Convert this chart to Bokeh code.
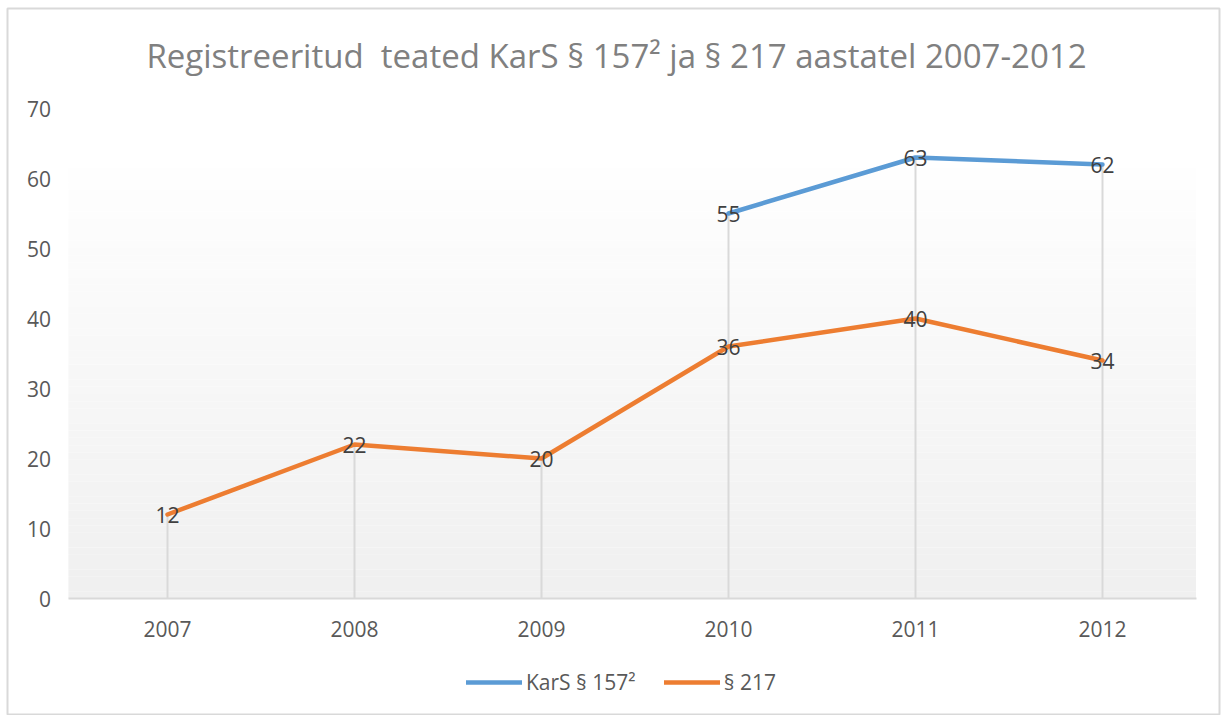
import numpy as np
from bokeh.plotting import figure
from bokeh.models import Range1d, FixedTicker, Label, Legend, LegendItem
from bokeh.core.properties import value
from bokeh.embed import file_html
from bokeh.resources import INLINE

# ---- data ----
years = ["2007", "2008", "2009", "2010", "2011", "2012"]
kars_157 = [None, None, None, 55, 63, 62]
par_217 = [12, 22, 20, 36, 40, 34]
y_ticks = [0, 10, 20, 30, 40, 50, 60, 70]
title_text = "Registreeritud\u00a0 teated KarS § 157\u00b2 ja § 217 aastatel 2007-2012"
series_names = ["KarS § 157\u00b2", "§ 217"]

FONT = "Open Sans"
BLUE = "#5b9bd5"
ORANGE = "#ed7d31"
AX_COL = "#595959"

xs = list(range(len(years)))  # category positions

# frame covers the whole chart box; 1 category = 187 px, 1 y-unit = 7 px
p = figure(width=1223, height=715,
           x_range=Range1d(-160 / 187, 1052 / 187),
           y_range=Range1d(-117 / 7, 70 + 100 / 7),
           output_backend="svg", toolbar_location=None,
           min_border_left=7, min_border_right=4, min_border_top=8, min_border_bottom=0)
p.background_fill_color = "white"
p.border_fill_color = "white"
p.outline_line_color = "#d9d9d9"
p.outline_line_width = 2
p.grid.visible = False

# gradient plot-area background (decorative)
n_bands = 60
edges = np.linspace(0, 62.6, n_bands + 1)
shade = np.linspace(240, 255, n_bands)
cols = ["#%02x%02x%02x" % (int(s), int(s), int(s)) for s in shade]
p.quad(left=[-0.53] * n_bands, right=[len(years) - 0.5] * n_bands,
       bottom=edges[:-1], top=edges[1:], fill_color=cols, line_color=None)

# drop lines
tops = [max(v for v in (a, b) if v is not None) for a, b in zip(kars_157, par_217)]
p.segment(x0=xs, y0=[0] * len(xs), x1=xs, y1=tops, line_color="#d9d9d9", line_width=2)

# lines
k_x = [x for x, v in zip(xs, kars_157) if v is not None]
k_vals = [v for v in kars_157 if v is not None]
r1 = p.line(k_x, k_vals, line_color=BLUE, line_width=4.5, line_join="round", line_cap="round")
r2 = p.line(xs, par_217, line_color=ORANGE, line_width=4.5, line_join="round", line_cap="round")

# data labels
lab_x = k_x + xs
lab_y = k_vals + par_217
lab_t = [str(v) for v in lab_y]
p.text(x=lab_x, y=lab_y, text=lab_t, text_align="center", text_baseline="middle",
       text_font=value(FONT), text_font_size="21px", text_color="#404040")

# axes placed inside the frame
p.yaxis.fixed_location = -0.5
p.yaxis.ticker = FixedTicker(ticks=y_ticks)
p.yaxis.axis_line_color = None
p.yaxis.major_tick_line_color = None
p.yaxis.minor_tick_line_color = None
p.yaxis.major_label_standoff = 17
p.yaxis.major_label_text_font = FONT
p.yaxis.major_label_text_font_size = "21px"
p.yaxis.major_label_text_color = AX_COL

p.xaxis.fixed_location = 0
p.xaxis.ticker = FixedTicker(ticks=xs)
p.xaxis.major_label_overrides = {x: y for x, y in zip(xs, years)}
p.xaxis.axis_line_color = "#d9d9d9"
p.xaxis.axis_line_width = 2
p.xaxis.major_tick_line_color = None
p.xaxis.minor_tick_line_color = None
p.xaxis.major_label_standoff = 16
p.xaxis.major_label_text_font = FONT
p.xaxis.major_label_text_font_size = "21px"
p.xaxis.major_label_text_color = AX_COL
p.xaxis.bounds = (-0.53, len(years) - 0.5)

# title
p.add_layout(Label(x=(616 - 167) / 187, y=(598 - 55) / 7, text=title_text,
                   text_align="center", text_baseline="middle",
                   text_font=FONT, text_font_size="33px", text_color="#808080"))

# legend
legend = Legend(items=[LegendItem(label=series_names[0], renderers=[r1]),
                       LegendItem(label=series_names[1], renderers=[r2])],
                orientation="horizontal", location=(459, 19),
                glyph_width=56, glyph_height=20, label_standoff=4, spacing=28,
                label_text_font=FONT, label_text_font_size="21px", label_text_color=AX_COL,
                background_fill_alpha=0, border_line_color=None, margin=0, padding=0)
p.add_layout(legend)

open("out.html", "w").write(file_html(p, INLINE))
